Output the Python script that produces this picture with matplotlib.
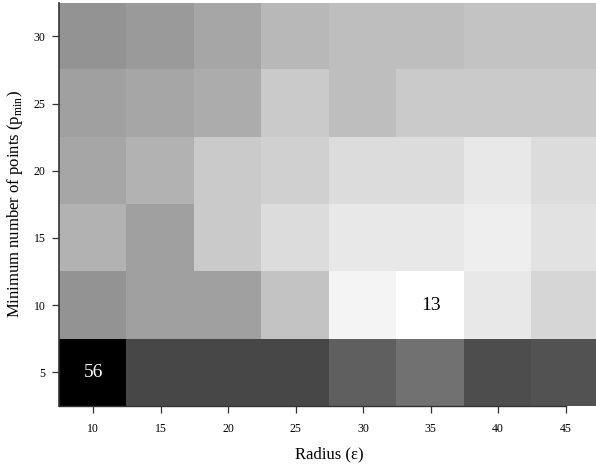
import numpy as np
import matplotlib
matplotlib.use('Agg')
import matplotlib.pyplot as plt

plt.rcParams['font.family'] = ['Liberation Serif', 'DejaVu Serif']
plt.rcParams['mathtext.fontset'] = 'custom'
plt.rcParams['mathtext.rm'] = 'Liberation Serif'

# radius (eps) on x, minimum number of points on y
radius = [10, 15, 20, 25, 30, 35, 40, 45]
min_points = [5, 10, 15, 20, 25, 30]

# number of clusters, one row per min_points value (bottom to top)
row_5 = [56, 44, 44, 44, 40, 37, 43, 42]
row_10 = [31, 29, 29, 23, 15, 13, 17, 20]
row_15 = [26, 29, 22, 19, 17, 17, 16, 18]
row_20 = [28, 26, 22, 21, 19, 19, 17, 19]
row_25 = [29, 28, 27, 22, 24, 22, 22, 22]
row_30 = [31, 30, 28, 25, 24, 24, 23, 23]

grid = np.array([row_5, row_10, row_15, row_20, row_25, row_30])
vmin = grid.min()
vmax = grid.max()

fig = plt.figure(figsize=(5.96, 4.67), dpi=100)
ax = fig.add_axes([0.0998, 0.1306, 0.9057, 0.8636])

dx = radius[1] - radius[0]
dy = min_points[1] - min_points[0]
ax.imshow(grid, cmap='gray_r', vmin=vmin, vmax=vmax, origin='lower',
          aspect='auto', interpolation='nearest',
          extent=[radius[0] - dx / 2, radius[-1] + dx / 2,
                  min_points[0] - dy / 2, min_points[-1] + dy / 2])

# label only the extreme cells
for i, mp in enumerate(min_points):
    for j, r in enumerate(radius):
        v = grid[i, j]
        if v == vmax:
            ax.text(r, mp, str(v), ha='center', va='center', color='white', fontsize=14)
        elif v == vmin:
            ax.text(r, mp, str(v), ha='center', va='center', color='black', fontsize=14)

ax.set_xticks(radius)
ax.set_yticks(min_points)
ax.tick_params(axis='both', labelsize=8.5, length=5, width=0.9, color='#333333')
ax.tick_params(axis='x', pad=7)
ax.tick_params(axis='y', pad=5)

for side in ['top', 'right']:
    ax.spines[side].set_visible(False)
ax.spines['left'].set_color('#333333')
ax.spines['left'].set_linewidth(1.2)
ax.spines['bottom'].set_color('#333333')
ax.spines['bottom'].set_linewidth(1.0)
ax.spines['bottom'].set_bounds(radius[0] - dx / 2, radius[-1])

ax.set_xlabel('Radius (ε)', fontsize=12)
ax.set_ylabel('Minimum number of points (p$_{\\mathrm{min}}$)', fontsize=12)
ax.xaxis.set_label_coords(0.499, -0.099)
ax.yaxis.set_label_coords(-0.064, 0.5)

fig.savefig('out.png', dpi=100)
